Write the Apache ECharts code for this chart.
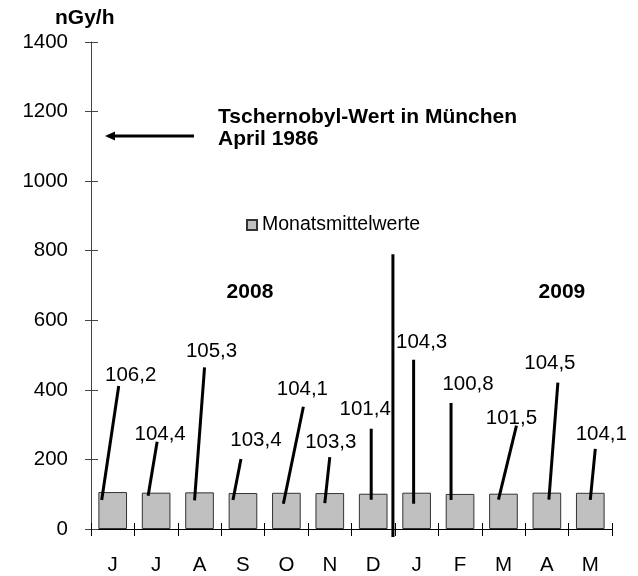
<!DOCTYPE html>
<html><head><meta charset="utf-8">
<script src="https://cdn.jsdelivr.net/npm/echarts@6/dist/echarts.min.js"></script>
<style>html,body{margin:0;padding:0;background:#fff}#c{width:638px;height:576px}</style>
</head><body><div id="c"></div>
<script>
// ---- data ----
const categories = ['J','J','A','S','O','N','D','J','F','M','A','M'];
const values = [106.2,104.4,105.3,103.4,104.1,103.3,101.4,104.3,100.8,101.5,104.5,104.1];
const labelTexts = ['106,2','104,4','105,3','103,4','104,1','103,3','101,4','104,3','100,8','101,5','104,5','104,1'];
const seriesName = 'Monatsmittelwerte';
const yMin = 0, yMax = 1400, yStep = 200;
const unitLabel = 'nGy/h';
const noteLine1 = 'Tschernobyl-Wert in München';
const noteLine2 = 'April 1986';
const chernobylLevel = 1130;
const yearLabels = ['2008', '2009'];
const separatorTopValue = 790;

// ---- label callout layout (pixel offsets from bar top-centre) ----
// [labelDx, labelDy, lineTopDx, lineTopDy, lineBottomDx, lineBottomDy]
const calloutLayout = [
  [18,-117, 6,-106, -11,8],
  [4,-58, 1,-51, -8,3],
  [12,-141, 5,-125, -5,8],
  [13,-53, -2,-34, -10,7],
  [16,-103, 17,-86, -3,11],
  [1,-51, 0,-36, -5,10],
  [-8,-84, -2,-65, -2,6],
  [5,-150, -3,-133, -3,11],
  [8,-110, -9,-91, -9,6],
  [8,-75, 13,-68, -5,6],
  [3,-129, 11,-110, 2,7],
  [11,-58, 5,-44, 0,7]
];

const FONT = '"Liberation Sans", Arial, sans-serif';
const chart = echarts.init(document.getElementById('c'), null, {renderer: 'canvas'});

const option = {
  animation: false,
  backgroundColor: '#fff',
  grid: {left: 91, right: 26, top: 42, bottom: 47, containLabel: false},
  legend: {
    data: [seriesName], left: 246, top: 215, padding: 0,
    itemWidth: 10, itemHeight: 10, icon: 'rect',
    textStyle: {fontFamily: FONT, fontSize: 19.5, color: '#000'}
  },
  xAxis: [{
    type: 'category', data: categories, boundaryGap: true,
    axisLine: {lineStyle: {color: '#000', width: 1}},
    axisTick: {show: true, length: 7, inside: false, lineStyle: {color: '#000'}},
    axisLabel: {fontFamily: FONT, fontSize: 20.5, color: '#000', margin: 26},
    splitLine: {show: false}
  }, {
    type: 'category', data: categories, boundaryGap: true, position: 'bottom',
    axisLine: {show: false},
    axisTick: {show: true, length: 6, inside: true, lineStyle: {color: '#000'}},
    axisLabel: {show: false}, splitLine: {show: false}
  }],
  yAxis: [{
    type: 'value', min: yMin, max: yMax, interval: yStep,
    axisLine: {show: true, lineStyle: {color: '#444', width: 1}},
    axisTick: {show: true, length: 6, inside: false, lineStyle: {color: '#444'}},
    axisLabel: {fontFamily: FONT, fontSize: 20.5, color: '#000', margin: 23,
      formatter: function (v) { return String(v); }},
    splitLine: {show: false}
  }, {
    type: 'value', min: yMin, max: yMax, interval: yStep, position: 'left',
    axisLine: {show: false},
    axisTick: {show: true, length: 7, inside: true, lineStyle: {color: '#444'}},
    axisLabel: {show: false}, splitLine: {show: false}
  }],
  series: [{
    name: seriesName, type: 'bar', data: values, barWidth: '66%',
    itemStyle: {color: '#C0C0C0', borderColor: '#333', borderWidth: 1},
    silent: true
  }, {
    name: 'callouts', type: 'custom', silent: true, z: 5,
    data: values.map((v, i) => [i, v]),
    renderItem: function (params, api) {
      const i = api.value(0);
      const p = api.coord([i, api.value(1)]);
      const L = calloutLayout[i];
      return {type: 'group', children: [
        {type: 'line', shape: {x1: p[0] + L[2], y1: p[1] + L[3], x2: p[0] + L[4], y2: p[1] + L[5]},
         style: {stroke: '#000', lineWidth: 3}},
        {type: 'text', style: {text: labelTexts[i], x: p[0] + L[0], y: p[1] + L[1],
          align: 'center', verticalAlign: 'middle', fontFamily: FONT, fontSize: 20.5, fill: '#000'}}
      ]};
    }
  }]
};
chart.setOption(option);

// annotations positioned through the chart's own scales
const yArrow = chart.convertToPixel({yAxisIndex: 0}, chernobylLevel);
const xD = chart.convertToPixel({xAxisIndex: 0}, 6);
const xJ = chart.convertToPixel({xAxisIndex: 0}, 7);
const xSep = (xD + xJ) / 2 - 2;
const ySepTop = chart.convertToPixel({yAxisIndex: 0}, separatorTopValue);
const yZero = chart.convertToPixel({yAxisIndex: 0}, 0);
const x2008 = chart.convertToPixel({xAxisIndex: 0}, 3);
const x2009 = chart.convertToPixel({xAxisIndex: 0}, 10);
const yYear = chart.convertToPixel({yAxisIndex: 0}, 680);

chart.setOption({graphic: [
  {type: 'text', left: 55, top: 8, style: {text: unitLabel, font: 'bold 21px ' + FONT, fill: '#000'}},
  {type: 'text', x: 218, y: 117, style: {text: noteLine1, fontFamily: FONT, fontWeight: 'bold', fontSize: 21, fill: '#000', verticalAlign: 'middle'}},
  {type: 'text', x: 218, y: 139, style: {text: noteLine2, fontFamily: FONT, fontWeight: 'bold', fontSize: 21, fill: '#000', verticalAlign: 'middle'}},
  {type: 'line', shape: {x1: 194, y1: yArrow, x2: 112, y2: yArrow}, style: {stroke: '#000', lineWidth: 3}},
  {type: 'polygon', shape: {points: [[105, yArrow], [115, yArrow - 4.5], [115, yArrow + 4.5]]}, style: {fill: '#000'}},
  {type: 'line', shape: {x1: xSep, y1: ySepTop, x2: xSep, y2: yZero + 8}, style: {stroke: '#000', lineWidth: 3}, z: 10},
  {type: 'text', x: x2008 + 7, y: yYear, style: {text: yearLabels[0], fontFamily: FONT, fontWeight: 'bold', fontSize: 21, fill: '#000', align: 'center', verticalAlign: 'middle'}},
  {type: 'text', x: x2009 + 15, y: yYear, style: {text: yearLabels[1], fontFamily: FONT, fontWeight: 'bold', fontSize: 21, fill: '#000', align: 'center', verticalAlign: 'middle'}}
]});
</script>
</body></html>
